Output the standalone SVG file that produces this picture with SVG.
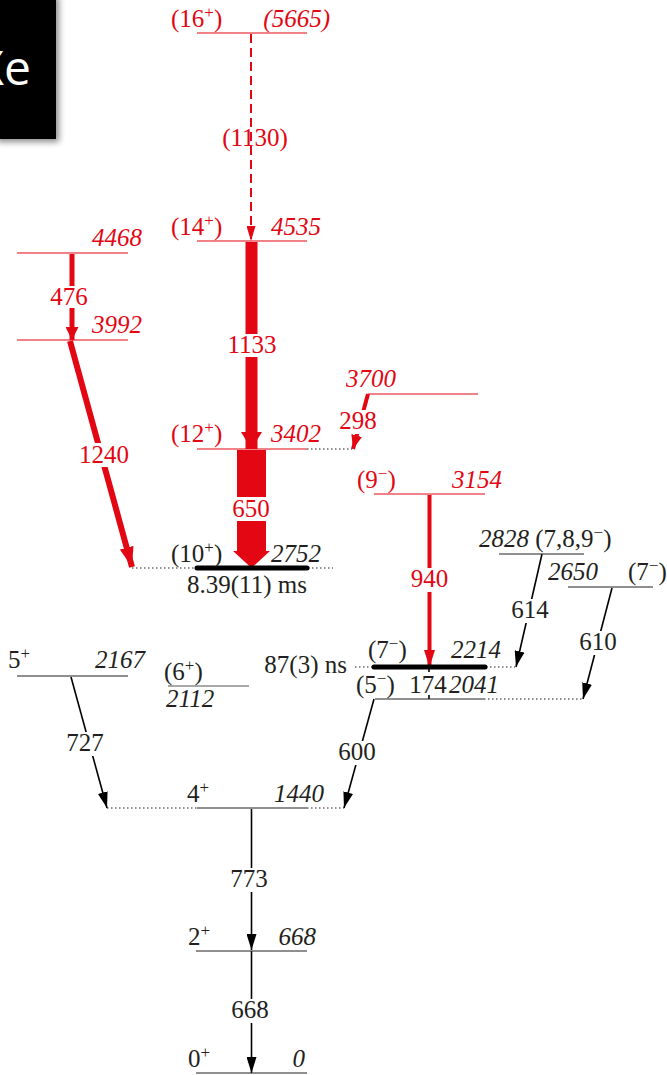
<svg xmlns="http://www.w3.org/2000/svg" width="667" height="1075" viewBox="0 0 667 1075">
<style>
.t{font-family:"Liberation Serif","Times New Roman",serif;font-size:25px;fill:#231f20}
.r{fill:#e30613}
.i{font-style:italic}
.m{text-anchor:middle}
.e{text-anchor:end}
.lv{stroke:#231f20;stroke-width:1.2;fill:none}
.lr{stroke:#e30613;stroke-width:1.2;fill:none}
.dot{stroke:#231f20;stroke-width:1;stroke-dasharray:1.5 2.5;fill:none}
.thick{stroke:#000;stroke-width:5;stroke-linecap:round;fill:none}
.ab{stroke:#000;stroke-width:1.6;fill:none;marker-end:url(#hb)}
.ar{stroke:#e30613;fill:none}
.bg{fill:#fff}
.sp{font-size:17px}
</style>
<defs>
<filter id="sh" x="-20%" y="-20%" width="150%" height="150%">
<feDropShadow dx="3" dy="3" stdDeviation="3" flood-color="#000" flood-opacity="0.45"/>
</filter>
<marker id="hb" markerUnits="userSpaceOnUse" markerWidth="16" markerHeight="10" refX="16" refY="5" orient="auto"><path d="M0,0 L16,5 L0,10 z" fill="#000"/></marker>
<marker id="hd" markerUnits="userSpaceOnUse" markerWidth="15" markerHeight="9" refX="15" refY="4.5" orient="auto"><path d="M0,0 L15,4.5 L0,9 z" fill="#e30613"/></marker>
<marker id="h1133" markerUnits="userSpaceOnUse" markerWidth="17" markerHeight="21" refX="17" refY="10.5" orient="auto"><path d="M0,0 L17,10.5 L0,21 z" fill="#e30613"/></marker>
<marker id="h476" markerUnits="userSpaceOnUse" markerWidth="13" markerHeight="13" refX="13" refY="6.5" orient="auto"><path d="M0,0 L13,6.5 L0,13 z" fill="#e30613"/></marker>
<marker id="h1240" markerUnits="userSpaceOnUse" markerWidth="20" markerHeight="14" refX="20" refY="7" orient="auto"><path d="M0,0 L20,7 L0,14 z" fill="#e30613"/></marker>
<marker id="h940" markerUnits="userSpaceOnUse" markerWidth="17" markerHeight="11" refX="17" refY="5.5" orient="auto"><path d="M0,0 L17,5.5 L0,11 z" fill="#e30613"/></marker>
<marker id="h298" markerUnits="userSpaceOnUse" markerWidth="14" markerHeight="11" refX="14" refY="5.5" orient="auto"><path d="M0,0 L14,5.5 L0,11 z" fill="#e30613"/></marker>
</defs>

<g id="title-box">
<rect x="-6" y="-6" width="62" height="145" fill="#000" filter="url(#sh)"/>
<text x="31" y="85" text-anchor="end" font-family="'Open Sans',sans-serif" font-size="48" fill="#fff">Xe</text>
</g>

<g id="connectors">
<line class="ar" x1="251" y1="34" x2="251" y2="241" stroke-width="2" stroke-dasharray="9 5" marker-end="url(#hd)"/>
<text class="t r m" x="255" y="146">(1130)</text>

<line class="ar" x1="251.5" y1="242" x2="251.5" y2="449" stroke-width="12" marker-end="url(#h1133)"/>
<rect class="bg" x="226" y="334" width="52" height="23"/>
<text class="t r m" x="252" y="353">1133</text>

<line class="ar" x1="72" y1="254" x2="72" y2="340" stroke-width="5" marker-end="url(#h476)"/>
<rect class="bg" x="49" y="286" width="40" height="22"/>
<text class="t r m" x="69" y="305">476</text>

<line class="ar" x1="70" y1="341" x2="132" y2="567" stroke-width="6" marker-end="url(#h1240)"/>
<rect class="bg" x="79" y="443" width="51" height="24"/>
<text class="t r m" x="104" y="463">1240</text>

<path d="M237,450 L266,450 L266,551 L270,551 L251.5,568 L233,551 L237,551 Z" fill="#e30613"/>
<rect class="bg" x="230" y="497" width="43" height="24"/>
<text class="t r m" x="251" y="517">650</text>

<line class="ar" x1="368" y1="394" x2="353" y2="449" stroke-width="4" marker-end="url(#h298)"/>
<rect class="bg" x="339" y="410" width="38" height="24"/>
<text class="t r m" x="358" y="429">298</text>

<line class="ar" x1="429.5" y1="495" x2="429.5" y2="667" stroke-width="4" marker-end="url(#h940)"/>
<rect class="bg" x="409" y="568" width="41" height="24"/>
<text class="t r m" x="429.5" y="587">940</text>

<line class="ab" x1="542" y1="554" x2="516" y2="667"/>
<rect class="bg" x="511" y="599" width="39" height="24"/>
<text class="t m" x="530" y="618">614</text>

<line class="ab" x1="612" y1="588" x2="583" y2="699"/>
<rect class="bg" x="578" y="631" width="40" height="24"/>
<text class="t m" x="598" y="650">610</text>

<line x1="429" y1="668" x2="429" y2="699" stroke="#000" stroke-width="1.6"/>
<rect class="bg" x="410" y="672" width="37" height="23"/>
<text class="t m" x="428" y="693">174</text>

<line class="ab" x1="71" y1="677" x2="107" y2="808"/>
<rect class="bg" x="66" y="732" width="39" height="24"/>
<text class="t m" x="85" y="751">727</text>

<line class="ab" x1="374" y1="699" x2="344" y2="808"/>
<rect class="bg" x="337" y="741" width="40" height="24"/>
<text class="t m" x="357" y="760">600</text>

<line class="ab" x1="251.5" y1="809" x2="251.5" y2="950"/>
<rect class="bg" x="229" y="868" width="40" height="24"/>
<text class="t m" x="249" y="887">773</text>

<line class="ab" x1="251.5" y1="951" x2="251.5" y2="1073"/>
<rect class="bg" x="230" y="999" width="40" height="24"/>
<text class="t m" x="250" y="1018">668</text>
</g>

<g id="L5665">
<line class="lr" x1="197" y1="33" x2="307" y2="33"/>
<text class="t r" x="171" y="27">(16<tspan class="sp" dy="-9">+</tspan><tspan dy="9">)</tspan></text>
<text class="t r i e" x="330" y="27">(5665)</text>
</g>
<g id="L4535">
<line class="lr" x1="197" y1="241" x2="307" y2="241"/>
<text class="t r" x="171" y="235">(14<tspan class="sp" dy="-9">+</tspan><tspan dy="9">)</tspan></text>
<text class="t r i e" x="321" y="235">4535</text>
</g>
<g id="L4468">
<line class="lr" x1="17" y1="253" x2="128" y2="253"/>
<text class="t r i e" x="142" y="246">4468</text>
</g>
<g id="L3992">
<line class="lr" x1="17" y1="340" x2="128" y2="340"/>
<text class="t r i e" x="142" y="333">3992</text>
</g>
<g id="L3700">
<line class="lr" x1="368" y1="394" x2="478" y2="394"/>
<text class="t r i" x="346" y="387">3700</text>
</g>
<g id="L3402">
<line class="lr" x1="197" y1="449" x2="307" y2="449"/>
<line class="dot" x1="307" y1="449" x2="352" y2="449"/>
<text class="t r" x="171" y="442">(12<tspan class="sp" dy="-9">+</tspan><tspan dy="9">)</tspan></text>
<text class="t r i e" x="321" y="442">3402</text>
</g>
<g id="L3154">
<line class="lr" x1="374" y1="494" x2="485" y2="494"/>
<text class="t r" x="357" y="488">(9<tspan class="sp" dy="-9">−</tspan><tspan dy="9">)</tspan></text>
<text class="t r i e" x="502" y="488">3154</text>
</g>
<g id="L2828">
<line class="lv" x1="499" y1="554" x2="584" y2="554"/>
<text class="t" x="479" y="547"><tspan class="i">2828</tspan> (7,8,9<tspan class="sp" dy="-9">−</tspan><tspan dy="9">)</tspan></text>
</g>
<g id="L2752">
<line class="dot" x1="132" y1="568" x2="196" y2="568"/>
<line class="dot" x1="308" y1="568" x2="333" y2="568"/>
<line class="thick" x1="197" y1="568" x2="307" y2="568"/>
<text class="t" x="171" y="562">(10<tspan class="sp" dy="-9">+</tspan><tspan dy="9">)</tspan></text>
<text class="t i e" x="321" y="562">2752</text>
<text class="t m" x="247" y="593">8.39(11) ms</text>
</g>
<g id="L2650">
<line class="lv" x1="568" y1="587" x2="653" y2="587"/>
<text class="t i" x="548" y="580">2650</text>
<text class="t" x="628" y="580">(7<tspan class="sp" dy="-9">−</tspan><tspan dy="9">)</tspan></text>
</g>
<g id="L2214">
<line class="dot" x1="355" y1="667" x2="373" y2="667"/>
<line class="dot" x1="486" y1="667" x2="515" y2="667"/>
<line class="thick" x1="374" y1="667" x2="485" y2="667"/>
<text class="t" x="368" y="658">(7<tspan class="sp" dy="-9">−</tspan><tspan dy="9">)</tspan></text>
<text class="t i e" x="501" y="658">2214</text>
<text class="t e" x="347" y="673">87(3) ns</text>
</g>
<g id="L2167">
<line class="lv" x1="17" y1="676" x2="128" y2="676"/>
<text class="t" x="8" y="668">5<tspan class="sp" dy="-9">+</tspan></text>
<text class="t i e" x="145" y="668">2167</text>
</g>
<g id="L2112">
<line x1="168" y1="686" x2="249" y2="686" stroke="#555" stroke-width="1.2"/>
<text class="t" x="164" y="680">(6<tspan class="sp" dy="-9">+</tspan><tspan dy="9">)</tspan></text>
<text class="t i" x="166" y="707">2112</text>
</g>
<g id="L2041">
<line class="lv" x1="375" y1="699" x2="484" y2="699"/>
<line class="dot" x1="484" y1="699" x2="583" y2="699"/>
<text class="t" x="356" y="693">(5<tspan class="sp" dy="-9">−</tspan><tspan dy="9">)</tspan></text>
<text class="t i e" x="499" y="693">2041</text>
</g>
<g id="L1440">
<line class="dot" x1="107" y1="808" x2="197" y2="808"/>
<line class="dot" x1="307" y1="808" x2="344" y2="808"/>
<line class="lv" x1="197" y1="808" x2="307" y2="808"/>
<text class="t" x="187" y="802">4<tspan class="sp" dy="-9">+</tspan></text>
<text class="t i e" x="324" y="802">1440</text>
</g>
<g id="L668">
<line class="lv" x1="196" y1="951" x2="307" y2="951"/>
<text class="t" x="188" y="945">2<tspan class="sp" dy="-9">+</tspan></text>
<text class="t i e" x="316" y="945">668</text>
</g>
<g id="L0">
<line class="lv" x1="196" y1="1073" x2="307" y2="1073"/>
<text class="t" x="188" y="1067">0<tspan class="sp" dy="-9">+</tspan></text>
<text class="t i e" x="305" y="1067">0</text>
</g>
</svg>
